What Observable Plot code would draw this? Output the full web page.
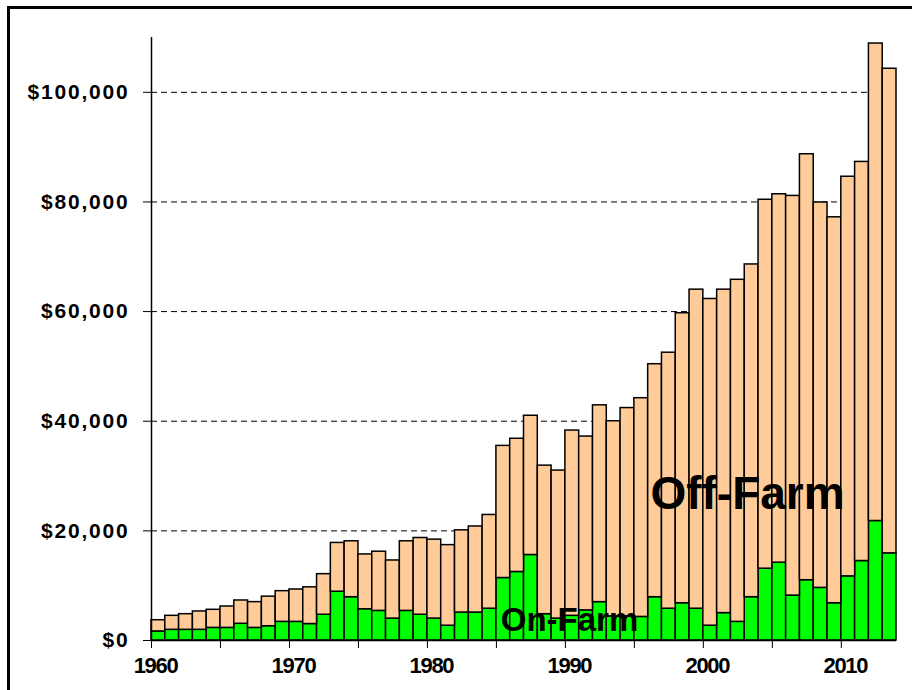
<!DOCTYPE html>
<html>
<head>
<meta charset="utf-8">
<script src="https://cdn.jsdelivr.net/npm/d3@7"></script>
<script src="https://cdn.jsdelivr.net/npm/@observablehq/plot@0.6"></script>
<style>
html, body { margin: 0; padding: 0; background: #fff; }
#wrap { position: relative; width: 912px; height: 690px; overflow: hidden; }
#frame { position: absolute; left: 7px; top: 6px; width: 930px; height: 720px;
  border-left: 3px solid #000; border-top: 3px solid #000; pointer-events: none; }
#wrap svg g[aria-label="y-axis tick label"] text { letter-spacing: 1.8px; }
#wrap svg g[aria-label="x-axis tick label"] text { letter-spacing: -1.3px; }
</style>
</head>
<body>
<div id="wrap"><div id="frame"></div></div>
<script>
const years = [1960,1961,1962,1963,1964,1965,1966,1967,1968,1969,
  1970,1971,1972,1973,1974,1975,1976,1977,1978,1979,
  1980,1981,1982,1983,1984,1985,1986,1987,1988,1989,
  1990,1991,1992,1993,1994,1995,1996,1997,1998,1999,
  2000,2001,2002,2003,2004,2005,2006,2007,2008,2009,
  2010,2011,2012,2013];

const onFarm = [1650,1950,1950,1950,2300,2300,3050,2300,2600,3400,
  3400,3000,4700,8900,7900,5700,5400,4000,5400,4700,
  4000,2700,5100,5100,5800,11400,12500,15600,4800,4000,
  4500,5500,7000,4400,4400,4300,7900,5800,6800,5800,
  2700,5000,3400,7900,13100,14200,8200,11000,9600,6800,
  11700,14500,21800,15900];

const offFarm = [2050,2550,2850,3350,3300,3900,4250,4700,5400,5600,
  5900,6700,7400,8900,10200,10000,10800,10600,12700,14000,
  14400,14700,15000,15700,17100,24100,24300,25400,27100,27000,
  33800,31700,35900,35600,38000,39900,42500,46700,52900,58200,
  59600,59000,62400,60700,67300,67200,72900,77700,70300,70400,
  72900,72800,87100,88400];

const seriesNames = ["On-Farm", "Off-Farm"];
const seriesColors = ["#00ff00", "#ffcc99"];

const yTicks = [0, 20000, 40000, 60000, 80000, 100000];
const gridValues = [20000, 40000, 60000, 80000, 100000];
const xTicks = [1960, 1965, 1970, 1975, 1980, 1985, 1990, 1995, 2000, 2005, 2010];
const xLabels = [1960, 1970, 1980, 1990, 2000, 2010];

const offLabel = [{text: "Off-Farm", year: 2003.2, value: 26600}];
const onLabel = [{text: "On-Farm", year: 1990.3, value: 3750}];

const rows = [];
years.forEach((y, i) => rows.push({year: y, series: seriesNames[0], value: onFarm[i]}));
years.forEach((y, i) => rows.push({year: y, series: seriesNames[1], value: offFarm[i]}));

const chart = Plot.plot({
  width: 912,
  height: 690,
  marginLeft: 151,
  marginRight: 16,
  marginTop: 37,
  marginBottom: 50,
  style: {fontFamily: "'Liberation Sans', Arial, sans-serif", background: "#fff", color: "#000", overflow: "visible"},
  x: {domain: [1960, 2014], axis: null},
  y: {domain: [0, 110000], axis: null},
  color: {domain: seriesNames, range: seriesColors},
  marks: [
    Plot.ruleY(gridValues, {stroke: "#000", strokeWidth: 1, strokeDasharray: "6,4"}),
    Plot.rectY(rows, {x: "year", interval: 1, y: "value", fill: "series", stroke: "#000", strokeWidth: 1.5, inset: 0}),
    Plot.ruleX([1960], {y1: 0, y2: 110000, stroke: "#000", strokeWidth: 1.5}),
    Plot.ruleY([0], {stroke: "#000", strokeWidth: 1.5}),
    Plot.axisY({ticks: yTicks, tickSize: 8, tickPadding: 14, tickFormat: d3.format("$,"), label: null,
      fontSize: 21, fontWeight: "bold", stroke: "#000"}),
    Plot.axisX({ticks: xTicks, tickSize: 8, tickFormat: () => "", label: null, stroke: "#000"}),
    Plot.axisX({ticks: xLabels, tickSize: 0, tickPadding: 17, tickFormat: d => String(d), dx: 4, label: null,
      fontSize: 22, fontWeight: "bold"}),
    Plot.text(offLabel, {x: "year", y: "value", text: "text", fontSize: 46, fontWeight: "bold", fill: "#000"}),
    Plot.text(onLabel, {x: "year", y: "value", text: "text", fontSize: 33, fontWeight: "bold", fill: "#000"})
  ]
});

document.getElementById("wrap").insertBefore(chart, document.getElementById("frame"));
</script>
</body>
</html>
